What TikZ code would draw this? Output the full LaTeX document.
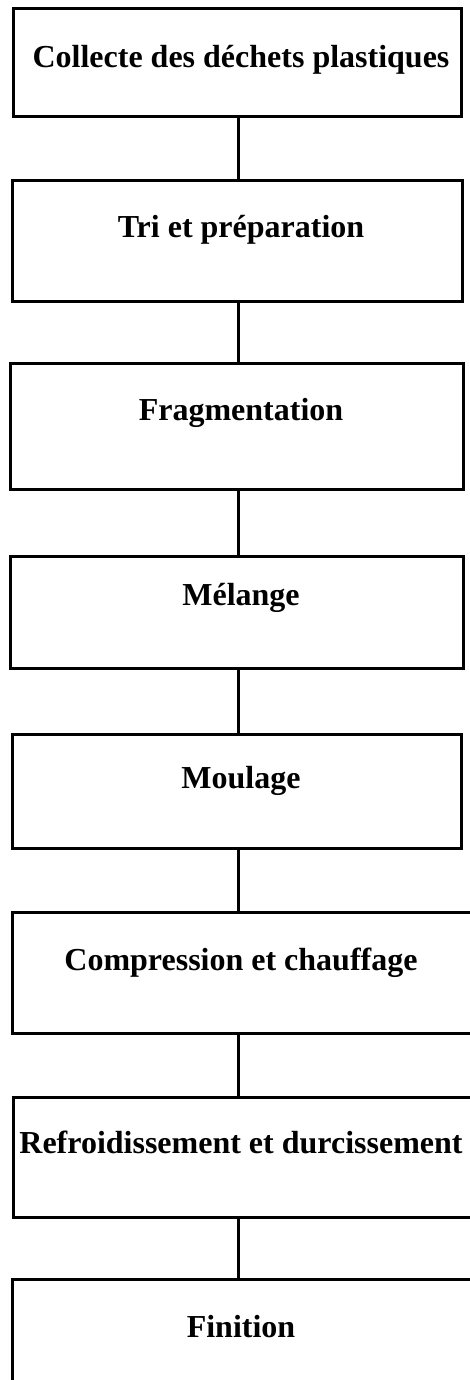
\documentclass[tikz,border=0pt]{standalone}
\usepackage{fontspec}
\setmainfont{Liberation Serif}
\tikzset{flowchart/.style={x=1pt,y=-1pt,line width=3pt},
  stepbox/.style={draw,rectangle,anchor=north west,inner sep=0pt,outer sep=0pt},
  steptext/.style={anchor=base,inner sep=0pt,font=\bfseries\fontsize{32}{38}\selectfont}}

\begin{document}
\begin{tikzpicture}[flowchart]
    \useasboundingbox (0,0) rectangle (470,1380);
    \node[stepbox,minimum width=448pt,minimum height=108pt] (b1) at (13,9) {};
    \node[stepbox,minimum width=450pt,minimum height=120pt] (b2) at (12,181) {};
    \node[stepbox,minimum width=453pt,minimum height=126pt] (b3) at (10,363) {};
    \node[stepbox,minimum width=453pt,minimum height=112pt] (b4) at (10,556) {};
    \node[stepbox,minimum width=449pt,minimum height=114pt] (b5) at (12,734) {};
    \node[stepbox,minimum width=490pt,minimum height=121pt] (b6) at (12,912) {};
    \node[stepbox,minimum width=490pt,minimum height=120pt] (b7) at (13,1097) {};
    \node[stepbox,minimum width=490pt,minimum height=140pt] (b8) at (12,1279) {};
    \coordinate (spine) at (238,0);
    \foreach \i/\j in {1/2,2/3,3/4,4/5,5/6,6/7,7/8}
        \draw (b\i.south -| spine) -- (b\j.north -| spine);
    \node[steptext] (t1) at (241,68) {Collecte des déchets plastiques};
    \node[steptext] (t2) at (241,238) {Tri et préparation};
    \node[steptext] (t3) at (241,420) {Fragmentation};
    \node[steptext] (t4) at (241,605) {Mélange};
    \node[steptext] (t5) at (241,788) {Moulage};
    \node[steptext] (t6) at (241,970) {Compression et chauffage};
    \node[steptext] (t7) at (241,1153) {Refroidissement et durcissement};
    \node[steptext] (t8) at (241,1337) {Finition};
\end{tikzpicture}
\end{document}
